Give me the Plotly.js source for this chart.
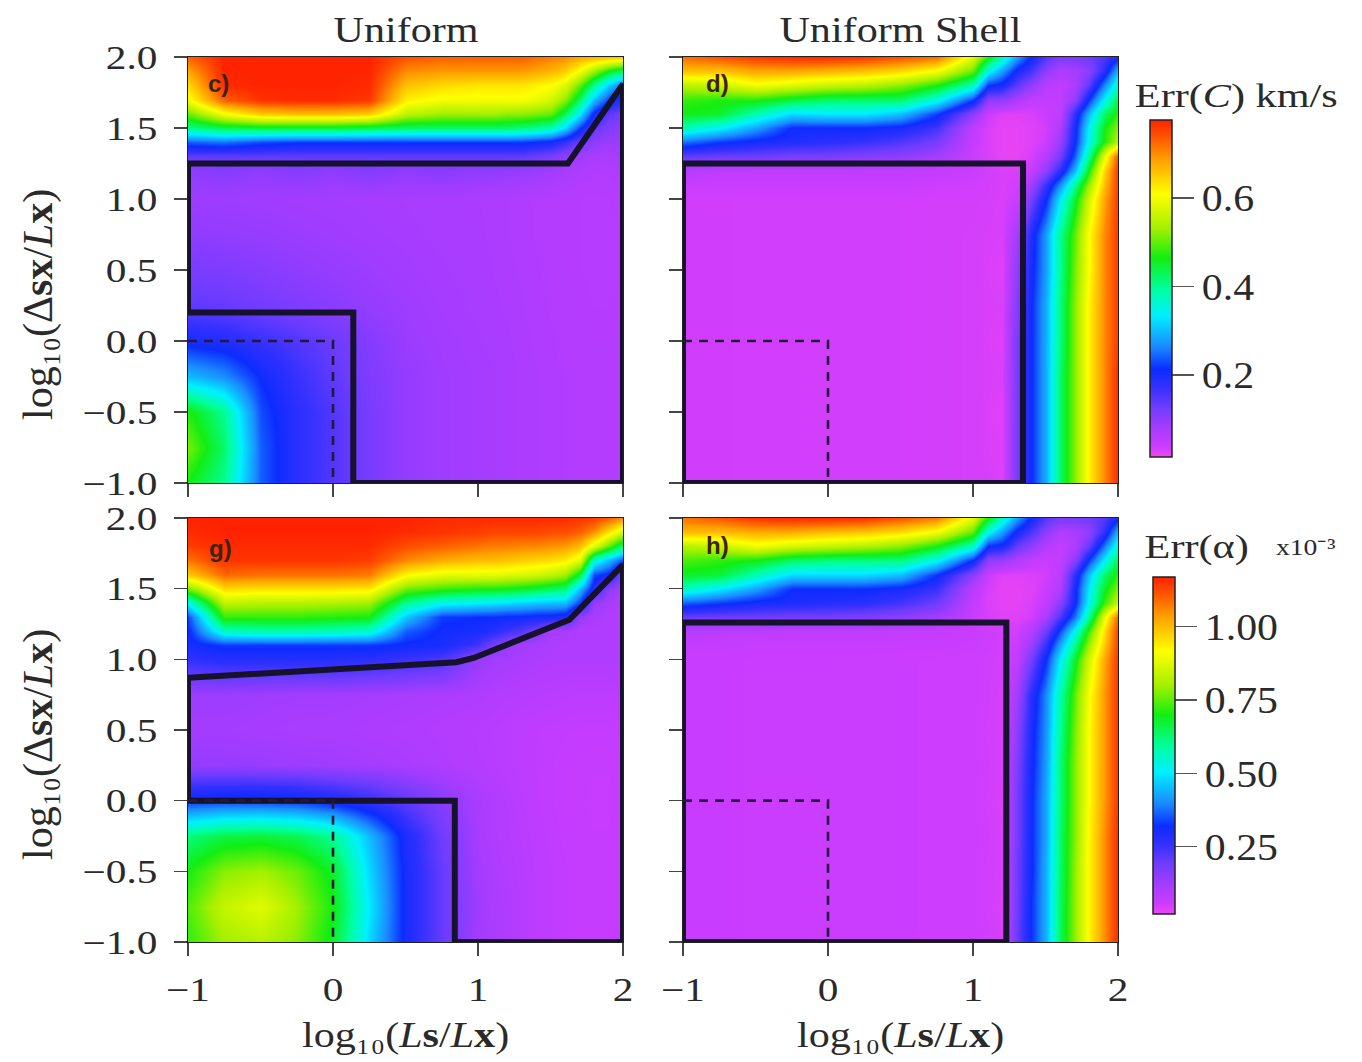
<!DOCTYPE html>
<html>
<head>
<meta charset="utf-8">
<script src="https://cdn.plot.ly/plotly-3.0.1.min.js"></script>
<style>
  html, body { margin: 0; padding: 0; background: #fff; }
  #chart { width: 1362px; height: 1062px; }
</style>
</head>
<body>
<div id="chart"></div>
<script>
// Grid of the simulations: log10(Ls/Lx) across, log10(Δsx/Lx) up.
const gridX = [-1, -0.75, -0.5, -0.25, 0, 0.25, 0.5, 0.75, 1, 1.1, 1.2, 1.3, 1.4, 1.5, 1.6, 1.7, 1.8, 1.9, 2];
const gridY = [-1, -0.75, -0.5, -0.25, 0, 0.25, 0.5, 0.75, 1, 1.1, 1.2, 1.3, 1.4, 1.5, 1.6, 1.7, 1.8, 1.9, 2];

// Err(C) in km/s, uniform source (rows follow gridY, columns gridX)
const errCUniform = [
  [0.46,0.40,0.24,0.18,0.15,0.12,0.095,0.085,0.08,0.078,0.075,0.072,0.07,0.068,0.066,0.065,0.064,0.064,0.065],
  [0.51,0.42,0.24,0.18,0.15,0.12,0.095,0.085,0.08,0.078,0.075,0.072,0.07,0.068,0.066,0.065,0.064,0.064,0.065],
  [0.47,0.40,0.23,0.18,0.15,0.12,0.095,0.085,0.08,0.078,0.075,0.072,0.07,0.068,0.066,0.065,0.064,0.064,0.065],
  [0.30,0.27,0.21,0.17,0.14,0.115,0.095,0.085,0.08,0.078,0.075,0.072,0.07,0.068,0.066,0.065,0.064,0.064,0.065],
  [0.20,0.19,0.17,0.15,0.13,0.11,0.09,0.083,0.078,0.076,0.074,0.071,0.069,0.067,0.065,0.064,0.063,0.063,0.064],
  [0.14,0.135,0.125,0.115,0.105,0.095,0.087,0.08,0.076,0.074,0.072,0.07,0.068,0.066,0.064,0.063,0.062,0.062,0.063],
  [0.12,0.115,0.108,0.10,0.094,0.088,0.082,0.078,0.075,0.073,0.071,0.069,0.067,0.065,0.063,0.062,0.061,0.061,0.062],
  [0.10,0.098,0.094,0.09,0.086,0.082,0.079,0.076,0.074,0.072,0.07,0.068,0.066,0.064,0.063,0.062,0.061,0.061,0.062],
  [0.088,0.087,0.085,0.083,0.081,0.079,0.077,0.075,0.073,0.072,0.07,0.068,0.066,0.064,0.063,0.062,0.061,0.062,0.064],
  [0.092,0.095,0.09,0.094,0.088,0.092,0.086,0.09,0.084,0.082,0.08,0.078,0.075,0.072,0.068,0.066,0.064,0.065,0.068],
  [0.10,0.11,0.10,0.11,0.10,0.11,0.10,0.105,0.10,0.10,0.098,0.095,0.09,0.085,0.078,0.07,0.066,0.068,0.072],
  [0.14,0.14,0.14,0.14,0.14,0.14,0.14,0.14,0.14,0.14,0.14,0.14,0.13,0.12,0.10,0.085,0.075,0.075,0.08],
  [0.24,0.25,0.23,0.22,0.22,0.22,0.22,0.22,0.22,0.22,0.22,0.22,0.21,0.20,0.17,0.13,0.10,0.09,0.09],
  [0.40,0.43,0.44,0.44,0.44,0.43,0.42,0.42,0.42,0.42,0.42,0.41,0.40,0.38,0.32,0.22,0.14,0.11,0.10],
  [0.50,0.60,0.65,0.66,0.66,0.65,0.55,0.53,0.53,0.53,0.52,0.52,0.51,0.50,0.43,0.33,0.20,0.14,0.12],
  [0.60,0.73,0.765,0.77,0.77,0.76,0.62,0.60,0.60,0.60,0.60,0.60,0.59,0.57,0.52,0.42,0.30,0.22,0.18],
  [0.64,0.77,0.775,0.775,0.775,0.77,0.66,0.64,0.63,0.63,0.63,0.63,0.62,0.61,0.58,0.50,0.40,0.31,0.25],
  [0.68,0.775,0.775,0.775,0.775,0.775,0.70,0.69,0.69,0.69,0.69,0.69,0.68,0.67,0.65,0.60,0.53,0.46,0.42],
  [0.73,0.775,0.776,0.776,0.776,0.776,0.74,0.73,0.73,0.73,0.73,0.73,0.72,0.71,0.70,0.68,0.67,0.66,0.65]
];

// Err(C) in km/s, uniform shell source
const errCShell = [
  [0.036,0.036,0.035,0.035,0.035,0.035,0.035,0.034,0.033,0.032,0.025,0.12,0.21,0.29,0.42,0.52,0.62,0.70,0.77],
  [0.036,0.036,0.035,0.035,0.035,0.035,0.035,0.034,0.033,0.030,0.028,0.12,0.21,0.29,0.42,0.52,0.62,0.70,0.77],
  [0.036,0.036,0.035,0.035,0.035,0.035,0.035,0.034,0.033,0.030,0.024,0.12,0.21,0.29,0.42,0.52,0.62,0.70,0.77],
  [0.036,0.036,0.035,0.035,0.035,0.035,0.035,0.034,0.033,0.031,0.030,0.12,0.21,0.29,0.42,0.52,0.62,0.70,0.77],
  [0.036,0.036,0.035,0.035,0.035,0.035,0.035,0.034,0.033,0.030,0.026,0.12,0.21,0.29,0.41,0.52,0.62,0.70,0.76],
  [0.036,0.036,0.035,0.035,0.035,0.035,0.035,0.034,0.033,0.031,0.030,0.11,0.21,0.29,0.41,0.52,0.62,0.70,0.76],
  [0.036,0.036,0.035,0.035,0.035,0.035,0.035,0.034,0.033,0.030,0.025,0.10,0.20,0.28,0.40,0.51,0.61,0.70,0.76],
  [0.036,0.036,0.035,0.035,0.035,0.035,0.035,0.034,0.033,0.031,0.030,0.08,0.19,0.28,0.40,0.50,0.61,0.70,0.76],
  [0.036,0.036,0.035,0.035,0.035,0.035,0.035,0.034,0.034,0.033,0.030,0.04,0.12,0.21,0.33,0.45,0.57,0.68,0.76],
  [0.04,0.04,0.04,0.04,0.04,0.04,0.04,0.038,0.036,0.034,0.030,0.035,0.08,0.17,0.27,0.40,0.53,0.66,0.76],
  [0.06,0.05,0.05,0.05,0.05,0.05,0.05,0.045,0.04,0.035,0.030,0.03,0.045,0.10,0.18,0.30,0.47,0.64,0.76],
  [0.14,0.13,0.13,0.12,0.12,0.11,0.10,0.08,0.04,0.03,0.02,0.02,0.03,0.06,0.12,0.24,0.40,0.58,0.74],
  [0.25,0.22,0.20,0.19,0.18,0.17,0.15,0.12,0.045,0.03,0.02,0.02,0.025,0.04,0.09,0.21,0.35,0.47,0.55],
  [0.38,0.34,0.28,0.21,0.21,0.21,0.20,0.16,0.05,0.03,0.02,0.02,0.025,0.035,0.07,0.20,0.34,0.46,0.52],
  [0.46,0.45,0.38,0.32,0.33,0.33,0.30,0.22,0.10,0.04,0.025,0.025,0.03,0.04,0.05,0.18,0.30,0.42,0.48],
  [0.48,0.47,0.47,0.44,0.42,0.42,0.42,0.35,0.22,0.10,0.10,0.07,0.05,0.045,0.05,0.10,0.22,0.34,0.44],
  [0.55,0.56,0.60,0.58,0.56,0.55,0.52,0.47,0.38,0.22,0.20,0.14,0.10,0.06,0.05,0.07,0.14,0.26,0.37],
  [0.66,0.66,0.68,0.68,0.67,0.66,0.64,0.60,0.50,0.35,0.28,0.20,0.16,0.10,0.07,0.08,0.10,0.18,0.30],
  [0.72,0.74,0.76,0.77,0.77,0.76,0.74,0.72,0.58,0.47,0.38,0.28,0.21,0.15,0.12,0.12,0.13,0.15,0.20]
];

// Err(α) ×10⁻³, uniform source
const errAUniform = [
  [0.72,0.80,0.82,0.78,0.68,0.48,0.30,0.20,0.12,0.11,0.10,0.09,0.08,0.075,0.07,0.066,0.065,0.065,0.068],
  [0.74,0.84,0.88,0.80,0.70,0.50,0.30,0.20,0.13,0.11,0.10,0.09,0.08,0.075,0.07,0.066,0.065,0.065,0.068],
  [0.70,0.78,0.80,0.76,0.68,0.48,0.30,0.20,0.12,0.105,0.095,0.088,0.08,0.075,0.07,0.066,0.065,0.065,0.068],
  [0.62,0.66,0.67,0.65,0.60,0.45,0.29,0.19,0.115,0.10,0.092,0.085,0.078,0.072,0.068,0.064,0.063,0.063,0.066],
  [0.33,0.34,0.34,0.33,0.30,0.26,0.21,0.16,0.11,0.10,0.09,0.082,0.076,0.07,0.066,0.063,0.062,0.062,0.065],
  [0.14,0.14,0.135,0.13,0.125,0.12,0.11,0.10,0.092,0.087,0.082,0.078,0.074,0.07,0.066,0.064,0.063,0.063,0.066],
  [0.12,0.12,0.115,0.112,0.11,0.105,0.10,0.095,0.09,0.086,0.082,0.078,0.075,0.072,0.07,0.068,0.068,0.068,0.07],
  [0.13,0.13,0.125,0.12,0.12,0.115,0.11,0.105,0.10,0.096,0.092,0.09,0.087,0.085,0.082,0.08,0.08,0.08,0.082],
  [0.26,0.28,0.28,0.28,0.28,0.27,0.25,0.23,0.14,0.12,0.115,0.11,0.105,0.10,0.10,0.10,0.10,0.10,0.10],
  [0.30,0.33,0.33,0.33,0.33,0.33,0.31,0.30,0.24,0.18,0.14,0.12,0.11,0.105,0.10,0.10,0.10,0.10,0.10],
  [0.31,0.56,0.58,0.58,0.57,0.55,0.36,0.31,0.30,0.28,0.25,0.22,0.18,0.11,0.11,0.10,0.10,0.10,0.10],
  [0.34,0.72,0.72,0.72,0.71,0.70,0.46,0.33,0.32,0.32,0.31,0.31,0.30,0.30,0.28,0.14,0.11,0.10,0.10],
  [0.52,0.83,0.82,0.82,0.81,0.80,0.60,0.52,0.50,0.49,0.48,0.47,0.46,0.45,0.45,0.33,0.14,0.11,0.10],
  [0.76,0.96,0.95,0.95,0.95,0.94,0.76,0.72,0.70,0.70,0.69,0.68,0.66,0.64,0.62,0.45,0.28,0.15,0.11],
  [0.98,1.09,1.08,1.08,1.08,1.07,0.92,0.88,0.88,0.88,0.87,0.86,0.85,0.83,0.80,0.66,0.34,0.30,0.16],
  [1.08,1.15,1.15,1.15,1.15,1.14,1.06,1.02,1.00,1.00,0.99,0.98,0.97,0.96,0.94,0.88,0.55,0.45,0.35],
  [1.14,1.16,1.16,1.16,1.16,1.16,1.12,1.10,1.08,1.07,1.07,1.06,1.06,1.05,1.04,1.00,0.88,0.75,0.62],
  [1.16,1.17,1.17,1.17,1.17,1.17,1.16,1.15,1.14,1.13,1.13,1.13,1.13,1.12,1.12,1.10,1.05,0.95,0.85],
  [1.17,1.17,1.17,1.17,1.17,1.17,1.17,1.16,1.16,1.16,1.16,1.16,1.16,1.16,1.16,1.15,1.14,1.10,1.05]
];

// Err(α) ×10⁻³, uniform shell source
const errAShell = [
  [0.06,0.06,0.058,0.058,0.058,0.057,0.057,0.056,0.055,0.052,0.045,0.20,0.32,0.44,0.64,0.79,0.93,1.05,1.16],
  [0.06,0.06,0.058,0.058,0.058,0.057,0.057,0.056,0.055,0.050,0.040,0.19,0.32,0.44,0.64,0.79,0.93,1.05,1.16],
  [0.06,0.06,0.058,0.058,0.058,0.057,0.057,0.056,0.055,0.050,0.045,0.19,0.31,0.44,0.63,0.79,0.93,1.05,1.16],
  [0.06,0.06,0.058,0.058,0.058,0.057,0.057,0.056,0.055,0.052,0.045,0.18,0.31,0.43,0.63,0.78,0.93,1.05,1.16],
  [0.06,0.06,0.058,0.058,0.058,0.057,0.057,0.056,0.055,0.050,0.040,0.18,0.31,0.43,0.62,0.78,0.92,1.04,1.15],
  [0.06,0.06,0.058,0.058,0.058,0.057,0.057,0.056,0.055,0.052,0.045,0.17,0.30,0.42,0.62,0.78,0.92,1.04,1.15],
  [0.06,0.06,0.058,0.058,0.058,0.057,0.057,0.056,0.055,0.050,0.045,0.15,0.29,0.41,0.60,0.77,0.92,1.04,1.15],
  [0.06,0.06,0.058,0.058,0.058,0.057,0.057,0.056,0.055,0.052,0.045,0.12,0.27,0.40,0.58,0.75,0.91,1.04,1.15],
  [0.06,0.06,0.058,0.058,0.058,0.057,0.057,0.056,0.055,0.052,0.050,0.07,0.18,0.32,0.50,0.68,0.86,1.02,1.15],
  [0.065,0.065,0.062,0.062,0.062,0.062,0.06,0.06,0.058,0.055,0.050,0.06,0.13,0.26,0.43,0.61,0.80,0.98,1.14],
  [0.09,0.08,0.08,0.075,0.075,0.075,0.07,0.065,0.06,0.055,0.050,0.05,0.09,0.19,0.34,0.52,0.73,0.95,1.14],
  [0.20,0.19,0.19,0.18,0.18,0.17,0.15,0.12,0.06,0.045,0.035,0.035,0.05,0.11,0.23,0.38,0.60,0.88,1.10],
  [0.36,0.33,0.30,0.29,0.28,0.27,0.24,0.19,0.07,0.04,0.03,0.03,0.04,0.07,0.15,0.31,0.52,0.72,0.85],
  [0.56,0.50,0.42,0.32,0.32,0.32,0.30,0.25,0.08,0.045,0.03,0.03,0.035,0.06,0.10,0.30,0.50,0.68,0.78],
  [0.68,0.67,0.57,0.48,0.48,0.48,0.45,0.32,0.15,0.06,0.035,0.035,0.04,0.05,0.08,0.27,0.46,0.63,0.72],
  [0.74,0.72,0.70,0.64,0.62,0.62,0.62,0.52,0.32,0.15,0.14,0.10,0.07,0.06,0.07,0.15,0.33,0.50,0.66],
  [0.82,0.84,0.90,0.86,0.84,0.82,0.78,0.70,0.56,0.32,0.30,0.20,0.15,0.09,0.07,0.10,0.20,0.38,0.55],
  [1.00,1.00,1.02,1.02,1.00,0.99,0.96,0.90,0.75,0.52,0.42,0.30,0.23,0.15,0.10,0.11,0.14,0.26,0.45],
  [1.08,1.11,1.15,1.16,1.16,1.15,1.11,1.07,0.88,0.70,0.56,0.42,0.31,0.22,0.18,0.18,0.19,0.22,0.30]
];

// Outlines of the well-recovered regions, one closed path per panel
const outlineCX = [-1, 1.62, 2, 2, 0.14, 0.14, -1, -1];
const outlineCY = [1.25, 1.25, 1.81, -1, -1, 0.2, 0.2, 1.25];
const outlineDX = [-1, 1.345, 1.345, -1, -1];
const outlineDY = [1.25, 1.25, -1, -1, 1.25];
const outlineGX = [-1, 0.85, 0.97, 1.63, 2, 2, 0.84, 0.84, -1, -1];
const outlineGY = [0.87, 0.98, 1.01, 1.28, 1.67, -1, -1, 0, 0, 0.87];
const outlineHX = [-1, 1.23, 1.23, -1, -1];
const outlineHY = [1.26, 1.26, -1, -1, 1.26];

// Dashed reference square Ls <= Lx, Δsx <= Lx
const refSquareX = [-1, 0, 0];
const refSquareY = [0, 0, -1];

// Axis ticks
const xTickVals = [-1, 0, 1, 2];
const xTickText = ['\u22121', '0', '1', '2'];
const yTickVals = [-1, -0.5, 0, 0.5, 1, 1.5, 2];
const yTickText = ['\u22121.0', '\u22120.5', '0.0', '0.5', '1.0', '1.5', '2.0'];

// Colour bars
const cbTopVals = [0.2, 0.4, 0.6];
const cbTopText = ['0.2', '0.4', '0.6'];
const cbBottomVals = [0.25, 0.5, 0.75, 1.0];
const cbBottomText = ['0.25', '0.50', '0.75', '1.00'];

const rainbow = [
  [0.00, '#ee44f2'], [0.035, '#c83cff'], [0.09, '#a23cff'], [0.15, '#6e3cff'],
  [0.21, '#3030ff'], [0.26, '#0c2cff'], [0.33, '#1a8cff'], [0.42, '#00f0ff'],
  [0.50, '#00ff9c'], [0.59, '#12ee12'], [0.68, '#a6f000'], [0.78, '#ffff00'],
  [0.88, '#ffa200'], [0.95, '#ff5400'], [1.00, '#ff2200']
];

const W = 1362, H = 1062;
const serif = 'Liberation Serif, Times New Roman, serif';
const textColor = '#2a2a2a';

const colLeft = [188 / W, 623 / W];
const colRight = [683 / W, 1118 / W];
const rowTop = [1 - 483 / H, 1 - 57 / H];
const rowBottom = [1 - 942 / H, 1 - 518 / H];

function heat(z, xa, ya, zmin, zmax, colorbar) {
  const t = {
    type: 'heatmap', x: gridX, y: gridY, z: z, xaxis: xa, yaxis: ya,
    colorscale: rainbow, zmin: zmin, zmax: zmax, zsmooth: 'best',
    hoverinfo: 'skip', showscale: !!colorbar
  };
  if (colorbar) t.colorbar = colorbar;
  return t;
}
function outline(xs, ys, xa, ya) {
  return { type: 'scatter', mode: 'lines', x: xs, y: ys, xaxis: xa, yaxis: ya,
    line: { color: '#16122c', width: 6 }, hoverinfo: 'skip', showlegend: false };
}
function dashed(xa, ya) {
  return { type: 'scatter', mode: 'lines', x: refSquareX, y: refSquareY, xaxis: xa, yaxis: ya,
    line: { color: '#24183c', width: 2.6, dash: '9px,7px' }, hoverinfo: 'skip', showlegend: false };
}
function colorbarSpec(vals, text, yCenter, x) {
  return {
    x: x, xanchor: 'left', xpad: 0, ypad: 0,
    y: yCenter, yanchor: 'middle', len: 337 / H, lenmode: 'fraction',
    thickness: 22, thicknessmode: 'pixels',
    outlinewidth: 1.5, outlinecolor: '#222',
    tickvals: vals, ticktext: text, ticks: 'outside', ticklen: 22,
    tickwidth: 1.2, tickcolor: '#555',
    tickfont: { family: serif, size: 38, color: textColor }
  };
}

const traces = [
  heat(errCUniform, 'x', 'y', 0.015, 0.776,
       colorbarSpec(cbTopVals, cbTopText, 1 - 288.5 / H, 1150 / W)),
  heat(errCShell, 'x2', 'y2', 0.015, 0.776, null),
  heat(errAUniform, 'x3', 'y3', 0.02, 1.17,
       colorbarSpec(cbBottomVals, cbBottomText, 1 - 745.5 / H, 1153 / W)),
  heat(errAShell, 'x4', 'y4', 0.02, 1.17, null),
  outline(outlineCX, outlineCY, 'x', 'y'),
  outline(outlineDX, outlineDY, 'x2', 'y2'),
  outline(outlineGX, outlineGY, 'x3', 'y3'),
  outline(outlineHX, outlineHY, 'x4', 'y4'),
  dashed('x', 'y'), dashed('x2', 'y2'), dashed('x3', 'y3'), dashed('x4', 'y4')
];

function axis(domain, anchor, vals, text, showLabels, standoff) {
  return {
    domain: domain, anchor: anchor, range: [-1, 2], fixedrange: true,
    showline: true, linecolor: '#222', linewidth: 1, mirror: true,
    ticks: 'outside', ticklen: 13, tickwidth: 1.3, tickcolor: '#444',
    tickvals: vals, ticktext: text, showticklabels: showLabels,
    ticklabelstandoff: standoff,
    showgrid: false, zeroline: false,
    tickfont: { family: serif, size: 33, color: textColor }
  };
}

const xTitle = 'log\u2081\u2080(<i>L</i><b>s</b>/<i>L</i><b>x</b>)';
const yTitle = 'log\u2081\u2080(Δ<b>sx</b>/<i>L</i><b>x</b>)';

// Horizontal widening applied to each annotation's text, by index
const annWiden = [];
const annotations = [];
function note(spec, widen) { annotations.push(Object.assign({ showarrow: false }, spec)); annWiden.push(widen); }

note({ text: 'Uniform', xref: 'x domain', yref: 'y domain', x: 0.5, y: 1, yshift: 27,
       xanchor: 'center', yanchor: 'middle', font: { family: serif, size: 36, color: textColor } }, 1.17);
note({ text: 'Uniform Shell', xref: 'x2 domain', yref: 'y2 domain', x: 0.5, y: 1, yshift: 27,
       xanchor: 'center', yanchor: 'middle', font: { family: serif, size: 36, color: textColor } }, 1.17);
note({ text: xTitle, xref: 'x3 domain', yref: 'y3 domain', x: 0.5, y: 0, yshift: -93,
       xanchor: 'center', yanchor: 'middle', font: { family: serif, size: 36, color: textColor } }, 1.17);
note({ text: xTitle, xref: 'x4 domain', yref: 'y4 domain', x: 0.5, y: 0, yshift: -93,
       xanchor: 'center', yanchor: 'middle', font: { family: serif, size: 36, color: textColor } }, 1.17);
note({ text: yTitle, xref: 'x domain', yref: 'y domain', x: 0, y: 0.5, xshift: -150, yshift: -35,
       textangle: -90, xanchor: 'center', yanchor: 'middle', font: { family: serif, size: 42, color: textColor } }, 1);
note({ text: yTitle, xref: 'x3 domain', yref: 'y3 domain', x: 0, y: 0.5, xshift: -150, yshift: -15,
       textangle: -90, xanchor: 'center', yanchor: 'middle', font: { family: serif, size: 42, color: textColor } }, 1);
note({ text: 'Err(<i>C</i>) km/s', xref: 'paper', yref: 'paper', x: 1236 / W, y: 1 - 97 / H,
       xanchor: 'center', yanchor: 'middle', font: { family: serif, size: 33, color: textColor } }, 1.28);
note({ text: 'Err(α)', xref: 'paper', yref: 'paper', x: 1196 / W, y: 1 - 547 / H,
       xanchor: 'center', yanchor: 'middle', font: { family: serif, size: 33, color: textColor } }, 1.28);
note({ text: 'x10\u207B\u00B3', xref: 'paper', yref: 'paper', x: 1306 / W, y: 1 - 548 / H,
       xanchor: 'center', yanchor: 'middle', font: { family: serif, size: 23, color: textColor } }, 1.2);

const letterFont = { family: 'Liberation Sans, Arial, sans-serif', size: 24, color: '#3a2410', weight: 'bold' };
[['c)', 'x', 'y', 0.069, 0.937], ['d)', 'x2', 'y2', 0.08, 0.937],
 ['g)', 'x3', 'y3', 0.074, 0.929], ['h)', 'x4', 'y4', 0.08, 0.936]].forEach(function (p) {
  note({ text: p[0], xref: p[1] + ' domain', yref: p[2] + ' domain', x: p[3], y: p[4],
         xanchor: 'center', yanchor: 'middle', font: letterFont }, 1);
});

const layout = {
  width: W, height: H, margin: { l: 0, r: 0, t: 0, b: 0 },
  paper_bgcolor: '#fff', plot_bgcolor: '#fff', showlegend: false,
  xaxis: axis(colLeft, 'y', xTickVals, xTickText, false, 0),
  yaxis: axis(rowTop, 'x', yTickVals, yTickText, true, 10),
  xaxis2: axis(colRight, 'y2', xTickVals, xTickText, false, 0),
  yaxis2: axis(rowTop, 'x2', yTickVals, yTickText, false, 10),
  xaxis3: axis(colLeft, 'y3', xTickVals, xTickText, true, 5),
  yaxis3: axis(rowBottom, 'x3', yTickVals, yTickText, true, 10),
  xaxis4: axis(colRight, 'y4', xTickVals, xTickText, true, 5),
  yaxis4: axis(rowBottom, 'x4', yTickVals, yTickText, false, 10),
  annotations: annotations
};

// Stretch a text element sideways about its own anchor point
function widen(el, k) {
  if (!el || k === 1) return;
  const x = parseFloat(el.getAttribute('x')) || 0;
  const y = parseFloat(el.getAttribute('y')) || 0;
  const t = el.getAttribute('transform') || '';
  el.setAttribute('transform', t + ' translate(' + x + ',' + y + ') scale(' + k + ',1) translate(' + (-x) + ',' + (-y) + ')');
}

Plotly.newPlot('chart', traces, layout, { displayModeBar: false, staticPlot: true }).then(function (gd) {
  // unused, empty title placeholders
  gd.querySelectorAll('text').forEach(function (t) { if (!t.textContent.trim()) t.remove(); });
  gd.querySelectorAll('.xaxislayer-above text, .yaxislayer-above text').forEach(function (t) { widen(t, 1.25); });
  gd.querySelectorAll('.colorbar text').forEach(function (t) { widen(t, 1.1); });
  gd.querySelectorAll('.annotation').forEach(function (g) {
    const i = +g.getAttribute('data-index');
    widen(g.querySelector('text'), annWiden[i]);
  });
});
</script>
</body>
</html>
